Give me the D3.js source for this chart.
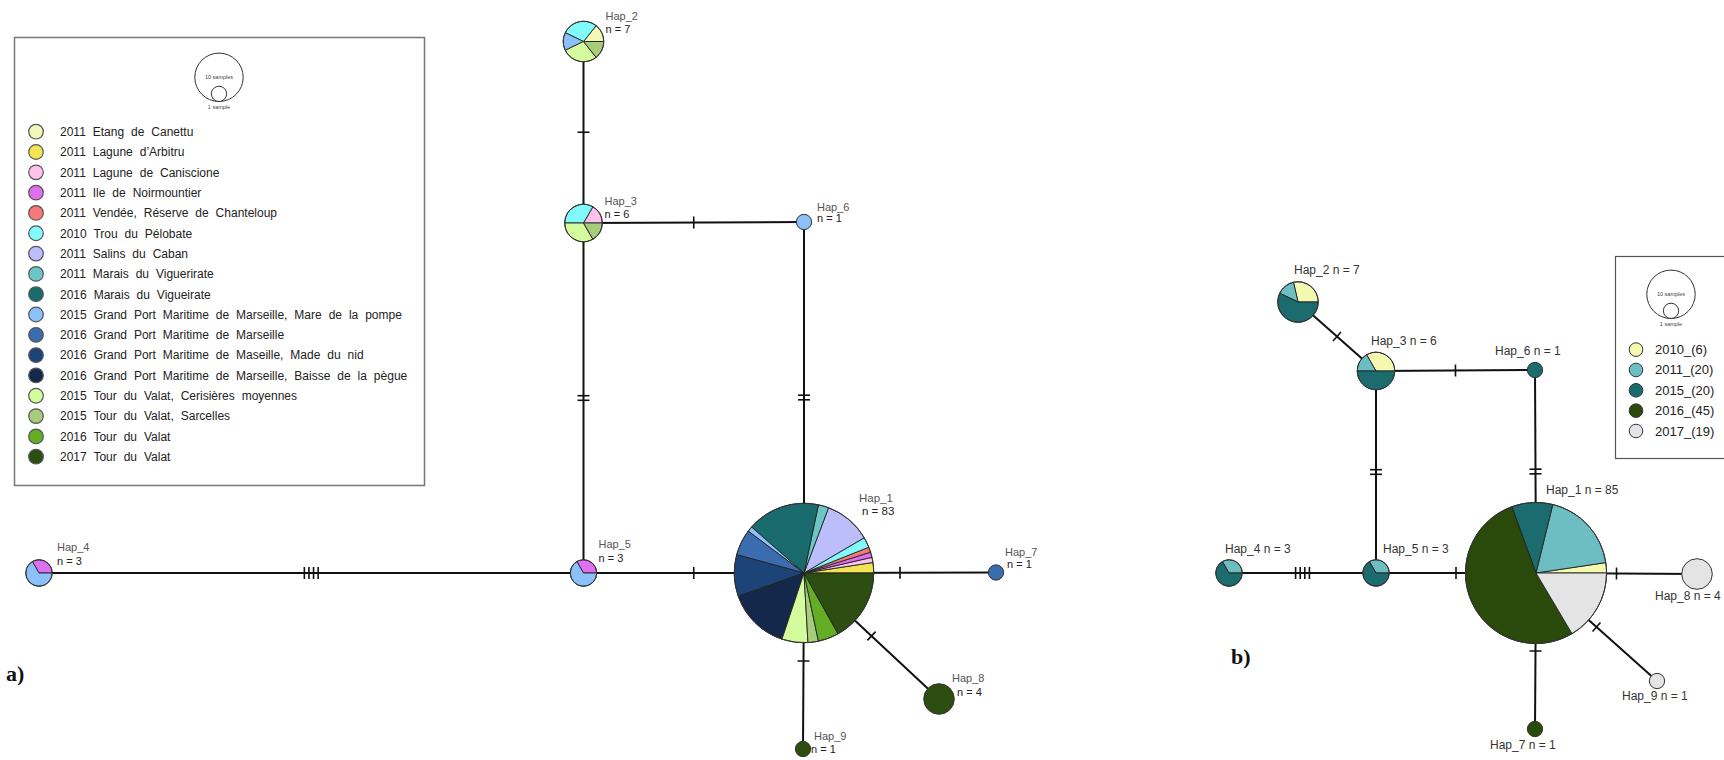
<!DOCTYPE html>
<html>
<head>
<meta charset="utf-8">
<script src="https://cdn.jsdelivr.net/npm/d3@7"></script>
<style>
  body { margin: 0; background: #fff; }
  svg { display: block; font-family: "Liberation Sans", Arial, sans-serif; }
</style>
</head>
<body>
<svg id="chart" width="1724" height="760"></svg>
<script>
// ---------- a) haplotype network by sampling site ----------
const populationsA = [
  "2011 Etang de Canettu",
  "2011 Lagune d’Arbitru",
  "2011 Lagune de Caniscione",
  "2011 Ile de Noirmountier",
  "2011 Vendée, Réserve de Chanteloup",
  "2010 Trou du Pélobate",
  "2011 Salins du Caban",
  "2011 Marais du Viguerirate",
  "2016 Marais du Vigueirate",
  "2015 Grand Port Maritime de Marseille, Mare de la pompe",
  "2016 Grand Port Maritime de Marseille",
  "2016 Grand Port Maritime de Maseille, Made du nid",
  "2016 Grand Port Maritime de Marseille, Baisse de la pègue",
  "2015 Tour du Valat, Cerisières moyennes",
  "2015 Tour du Valat, Sarcelles",
  "2016 Tour du Valat",
  "2017 Tour du Valat"
];
const haplotypes = ["Hap_1", "Hap_2", "Hap_3", "Hap_4", "Hap_5", "Hap_6", "Hap_7", "Hap_8", "Hap_9"];
// samples of each haplotype per site (same order as populationsA)
const countsA = [
  [0, 2, 1, 1, 1, 2, 9, 2, 14, 1, 5, 8, 12, 5, 2, 4, 14],
  [1, 0, 0, 0, 0, 2, 0, 0, 0, 1, 0, 0, 0, 2, 1, 0, 0],
  [0, 0, 1, 0, 0, 2, 0, 0, 0, 0, 0, 0, 0, 2, 1, 0, 0],
  [0, 0, 0, 1, 0, 0, 0, 0, 0, 2, 0, 0, 0, 0, 0, 0, 0],
  [0, 0, 0, 1, 0, 0, 0, 0, 0, 2, 0, 0, 0, 0, 0, 0, 0],
  [0, 0, 0, 0, 0, 0, 0, 0, 0, 1, 0, 0, 0, 0, 0, 0, 0],
  [0, 0, 0, 0, 0, 0, 0, 0, 0, 0, 1, 0, 0, 0, 0, 0, 0],
  [0, 0, 0, 0, 0, 0, 0, 0, 0, 0, 0, 0, 0, 0, 0, 0, 4],
  [0, 0, 0, 0, 0, 0, 0, 0, 0, 0, 0, 0, 0, 0, 0, 0, 1]
];
// [from, to, number of mutations]
const links = [
  ["Hap_2", "Hap_3", 1],
  ["Hap_3", "Hap_6", 1],
  ["Hap_3", "Hap_5", 2],
  ["Hap_6", "Hap_1", 2],
  ["Hap_4", "Hap_5", 4],
  ["Hap_5", "Hap_1", 1],
  ["Hap_1", "Hap_7", 1],
  ["Hap_1", "Hap_8", 1],
  ["Hap_1", "Hap_9", 1]
];

// ---------- b) haplotype network by sampling year ----------
const yearsB = ["2010_(6)", "2011_(20)", "2015_(20)", "2016_(45)", "2017_(19)"];
const countsB = [
  [2, 16, 8, 45, 14],
  [2, 1, 4, 0, 0],
  [2, 1, 3, 0, 0],
  [0, 1, 2, 0, 0],
  [0, 1, 2, 0, 0],
  [0, 0, 1, 0, 0],
  [0, 0, 0, 1, 0],
  [0, 0, 0, 0, 4],
  [0, 0, 0, 0, 1]
];

// ---------- styling ----------
const coloursA = [
  "#f1f8b8", "#f4e454", "#fcc2ec", "#de70f0", "#f77878", "#80fafa",
  "#bcbefc", "#6cc6c6", "#196b6d", "#8cc0fb", "#3b6cad", "#1c4478",
  "#14284b", "#d4fb9c", "#a6cc7c", "#63ac24", "#2d4e11"
];
const coloursB = ["#f4f8b0", "#6cbec2", "#1c6b6f", "#2a4a0c", "#e4e4e4"];

// node placement for each network (label offsets relative to the node centre)
const layoutA = {
  Hap_1: { x: 804, y: 573, l1: [55, -71], l2: [58, -58], fs: 11.5 },
  Hap_2: { x: 583.5, y: 41.5, l1: [22, -22], l2: [22, -9] },
  Hap_3: { x: 583.5, y: 223, l1: [21, -18], l2: [21, -5] },
  Hap_4: { x: 39, y: 573, l1: [18, -22], l2: [18, -8] },
  Hap_5: { x: 583.5, y: 573, l1: [15, -25], l2: [15, -11] },
  Hap_6: { x: 804, y: 222, l1: [13, -11], l2: [13, 0] },
  Hap_7: { x: 996, y: 572.5, l1: [9, -17], l2: [11, -5] },
  Hap_8: { x: 939, y: 699, l1: [13, -17], l2: [18, -3] },
  Hap_9: { x: 803, y: 749, l1: [11, -9], l2: [8, 4] }
};
const layoutB = {
  Hap_1: { x: 1536, y: 573, l: [10, -79] },
  Hap_2: { x: 1298, y: 302, l: [-4, -28] },
  Hap_3: { x: 1376, y: 371, l: [-5, -26] },
  Hap_4: { x: 1229, y: 573, l: [-4, -20] },
  Hap_5: { x: 1376, y: 573, l: [7, -20] },
  Hap_6: { x: 1535, y: 370, l: [-40, -15] },
  Hap_7: { x: 1535, y: 729, l: [-45, 20] },
  Hap_8: { x: 1697, y: 574, l: [-42, 26] },
  Hap_9: { x: 1657, y: 681, l: [-35, 19] }
};

const svg = d3.select("#chart");
const px = d3.scaleIdentity();
const py = d3.scaleIdentity();
const radius = d3.scaleSqrt().domain([0, 10]).range([0, 24.2]);
const pie = d3.pie().sort(null).value(d => d.v)
  .startAngle(Math.PI / 2).endAngle(Math.PI / 2 - 2 * Math.PI);
const arc = d3.arc().innerRadius(0);

function drawNetwork(g, counts, layout, colours, labelFn) {
  const nodes = haplotypes.map((name, i) => Object.assign(
    { name, counts: counts[i], total: d3.sum(counts[i]) }, layout[name]));
  const byName = new Map(nodes.map(d => [d.name, d]));

  // edges with mutation hatch marks
  const edges = g.append("g");
  links.forEach(([a, b, m]) => {
    const A = byName.get(a), B = byName.get(b);
    const x1 = px(A.x), y1 = py(A.y), x2 = px(B.x), y2 = py(B.y);
    edges.append("line").attr("x1", x1).attr("y1", y1).attr("x2", x2).attr("y2", y2)
      .attr("stroke", "#111").attr("stroke-width", 2);
    const len = Math.hypot(x2 - x1, y2 - y1), ux = (x2 - x1) / len, uy = (y2 - y1) / len;
    const mx = (x1 + x2) / 2, my = (y1 + y2) / 2;
    for (let k = 0; k < m; k++) {
      const off = (k - (m - 1) / 2) * 4.6;
      const cx = mx + ux * off, cy = my + uy * off;
      edges.append("line")
        .attr("x1", cx - uy * 6).attr("y1", cy + ux * 6)
        .attr("x2", cx + uy * 6).attr("y2", cy - ux * 6)
        .attr("stroke", "#111").attr("stroke-width", 1.6);
    }
  });

  // pie nodes
  nodes.forEach(n => {
    const r = radius(n.total);
    const node = g.append("g").attr("transform", `translate(${px(n.x)},${py(n.y)})`);
    const parts = n.counts.map((v, i) => ({ v, i })).filter(d => d.v > 0);
    if (parts.length === 1) {
      node.append("circle").attr("r", r).attr("fill", colours[parts[0].i])
        .attr("stroke", "#333").attr("stroke-width", 1);
    } else {
      node.selectAll("path").data(pie(parts)).join("path")
        .attr("d", d => arc.outerRadius(r)(d))
        .attr("fill", d => colours[d.data.i])
        .attr("stroke", "#222").attr("stroke-width", 0.9)
        .attr("stroke-linejoin", "round");
      node.append("circle").attr("r", r).attr("fill", "none")
        .attr("stroke", "#333").attr("stroke-width", 1);
    }
    labelFn(node, n);
  });
}

// ----- network a -----
const gA = svg.append("g");
drawNetwork(gA, countsA, layoutA, coloursA, (node, n) => {
  const fs = n.fs || 11;
  node.append("text").attr("x", n.l1[0]).attr("y", n.l1[1])
    .attr("font-size", fs).attr("fill", "#555").text(n.name);
  node.append("text").attr("x", n.l2[0]).attr("y", n.l2[1])
    .attr("font-size", fs).attr("fill", "#222").text(`n = ${n.total}`);
});

// ----- network b -----
const gB = svg.append("g");
drawNetwork(gB, countsB, layoutB, coloursB, (node, n) => {
  node.append("text").attr("x", n.l[0]).attr("y", n.l[1])
    .attr("font-size", 12).attr("fill", "#333")
    .text(`${n.name} n = ${n.total}`);
});

// ----- size key -----
function sizeKey(g, cx, bottom, small) {
  const rBig = radius(10), rSmall = radius(1);
  g.append("circle").attr("cx", cx).attr("cy", bottom - rBig).attr("r", rBig)
    .attr("fill", "#fff").attr("stroke", "#333").attr("stroke-width", 1);
  g.append("circle").attr("cx", cx).attr("cy", bottom - rSmall).attr("r", rSmall)
    .attr("fill", "#fff").attr("stroke", "#333").attr("stroke-width", 1);
  g.append("text").attr("x", cx).attr("y", bottom - rBig + 2).attr("text-anchor", "middle")
    .attr("font-size", small).attr("fill", "#444").text("10 samples");
  g.append("text").attr("x", cx).attr("y", bottom + 7).attr("text-anchor", "middle")
    .attr("font-size", small).attr("fill", "#444").text("1 sample");
}

// ----- legend a -----
const legA = svg.append("g");
legA.append("rect").attr("x", 14.5).attr("y", 37.5).attr("width", 410).attr("height", 448)
  .attr("fill", "#fff").attr("stroke", "#777").attr("stroke-width", 1.5);
sizeKey(legA, 219, 101.5, 5.5);
const rowA = d3.scalePoint().domain(populationsA).range([131.7, 456.7]);
populationsA.forEach((p, i) => {
  legA.append("circle").attr("cx", 36).attr("cy", rowA(p)).attr("r", 7.3)
    .attr("fill", coloursA[i]).attr("stroke", "#555").attr("stroke-width", 1.2);
  legA.append("text").attr("x", 60).attr("y", rowA(p) + 4.3)
    .attr("font-size", 12).attr("word-spacing", "3.6px").attr("fill", "#222").text(p);
});

// ----- legend b -----
const legB = svg.append("g");
legB.append("rect").attr("x", 1615.5).attr("y", 256.5).attr("width", 140).attr("height", 202)
  .attr("fill", "#fff").attr("stroke", "#555").attr("stroke-width", 1.2);
sizeKey(legB, 1671, 318.5, 5.5);
const rowB = d3.scalePoint().domain(yearsB).range([349.6, 431]);
yearsB.forEach((yv, i) => {
  legB.append("circle").attr("cx", 1636).attr("cy", rowB(yv)).attr("r", 6.8)
    .attr("fill", coloursB[i]).attr("stroke", "#333").attr("stroke-width", 1);
  legB.append("text").attr("x", 1655).attr("y", rowB(yv) + 4.5)
    .attr("font-size", 13).attr("fill", "#222").text(yv);
});

// ----- panel letters -----
svg.append("text").attr("x", 6).attr("y", 681)
  .attr("font-family", "'Liberation Serif', serif").attr("font-weight", "bold")
  .attr("font-size", 22).attr("fill", "#111").text("a)");
svg.append("text").attr("x", 1231).attr("y", 664)
  .attr("font-family", "'Liberation Serif', serif").attr("font-weight", "bold")
  .attr("font-size", 22).attr("fill", "#111").text("b)");
</script>
</body>
</html>
